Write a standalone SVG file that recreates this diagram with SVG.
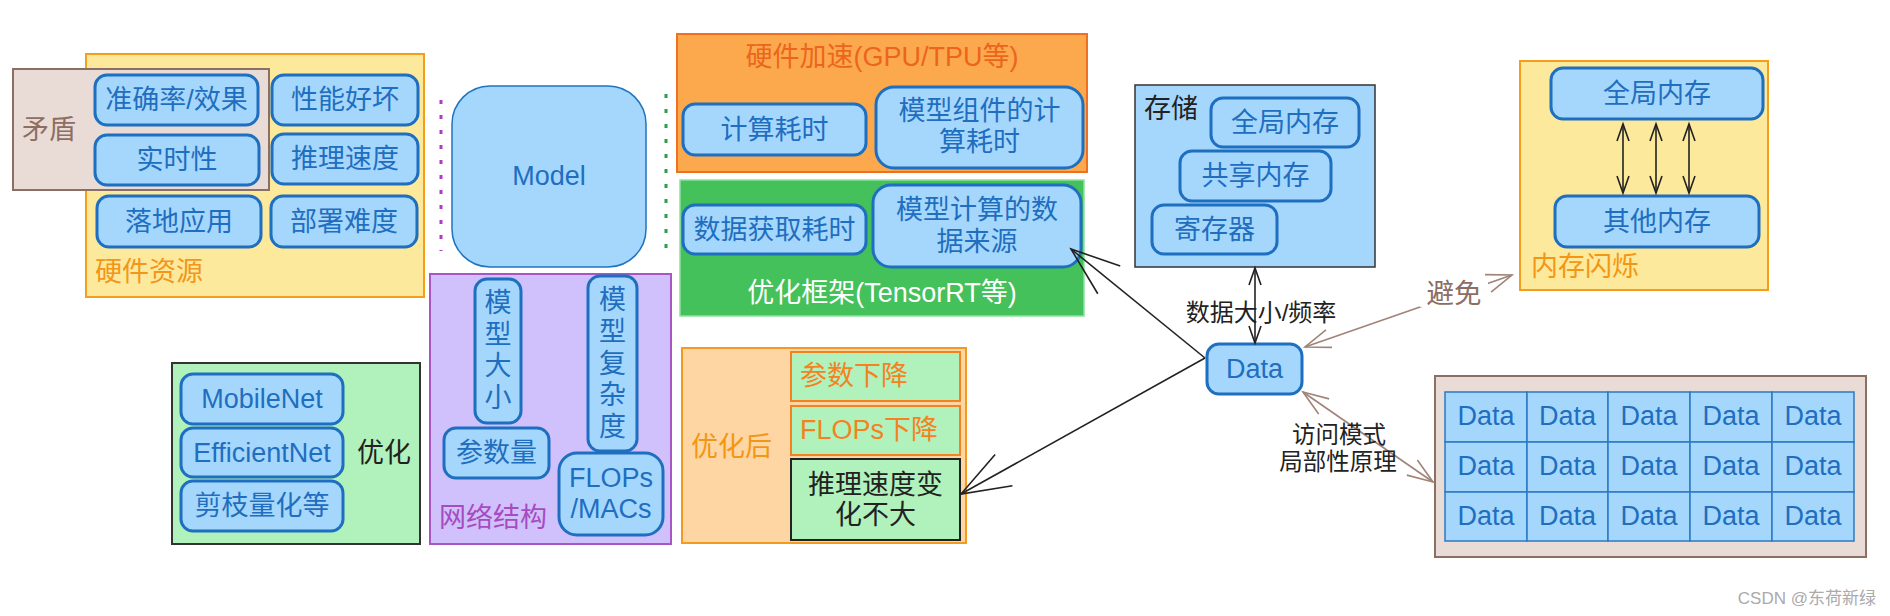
<svg xmlns="http://www.w3.org/2000/svg" width="1890" height="616" viewBox="0 0 1890 616">
<style>
text{font-family:"Liberation Sans","Noto Sans CJK SC",sans-serif;font-size:27px;dominant-baseline:central}
.c{text-anchor:middle}
.b{fill:#a5d7fd;stroke:#1f6fc0;stroke-width:3}
.bt{fill:#1f6ebf}
.cell{fill:#a5d7fd;stroke:#2a7ac4;stroke-width:1.5}
.lbl{font-size:24px;fill:#222}
.blk{stroke:#222;stroke-width:1.6;fill:none}
.brn{stroke:#a08479;stroke-width:1.6;fill:none}
</style>
<defs>
<marker id="big" markerUnits="userSpaceOnUse" orient="auto-start-reverse" overflow="visible" markerWidth="1" markerHeight="1">
<path d="M-49,-17.8 L0,0 L-49,17.8" fill="none" stroke="#222" stroke-width="1.6"/>
</marker>
<marker id="sm" markerUnits="userSpaceOnUse" orient="auto-start-reverse" overflow="visible" markerWidth="1" markerHeight="1">
<path d="M-17,-6 L0,0 L-17,6" fill="none" stroke="#222" stroke-width="1.6"/>
</marker>
<marker id="br" markerUnits="userSpaceOnUse" orient="auto-start-reverse" overflow="visible" markerWidth="1" markerHeight="1">
<path d="M-25.4,-9.2 L0,0 L-25.4,9.2" fill="none" stroke="#a08479" stroke-width="1.6"/>
</marker>
</defs>
<rect width="1890" height="616" fill="#fff"/>

<g id="hw-resource">
<rect x="86" y="54" width="338" height="243" fill="#fde99b" stroke="#f59e1b" stroke-width="2"/>
<text x="95" y="271.5" fill="#f2961b">硬件资源</text>
</g>
<g id="conflict">
<rect x="13" y="69" width="256" height="121" fill="#e9dcd7" stroke="#8d6e63" stroke-width="2"/>
<text x="22" y="129.5" fill="#8d6e63">矛盾</text>
</g>
<g id="n-accuracy"><rect class="b" x="95" y="75" width="163" height="50" rx="12"/><text class="c bt" x="176.5" y="100">准确率/效果</text></g>
<g id="n-perf"><rect class="b" x="272" y="75" width="146" height="50" rx="12"/><text class="c bt" x="345" y="100">性能好坏</text></g>
<g id="n-realtime"><rect class="b" x="95" y="135" width="164" height="50" rx="12"/><text class="c bt" x="177" y="160">实时性</text></g>
<g id="n-speed"><rect class="b" x="272" y="134" width="146" height="50" rx="12"/><text class="c bt" x="345" y="159">推理速度</text></g>
<g id="n-deploy-app"><rect class="b" x="97" y="196" width="164" height="51" rx="12"/><text class="c bt" x="179" y="221.5">落地应用</text></g>
<g id="n-deploy-diff"><rect class="b" x="271" y="196" width="146" height="51" rx="12"/><text class="c bt" x="344" y="221.5">部署难度</text></g>

<g id="model">
<rect x="452" y="86" width="194" height="181" rx="38" fill="#a5d7fd" stroke="#1f74c0" stroke-width="1.5"/>
<text class="c bt" x="549" y="176">Model</text>
</g>
<g id="dividers">
<line x1="441" y1="100" x2="441" y2="251" stroke="#b03ac8" stroke-width="3" stroke-dasharray="4 11"/>
<line x1="666" y1="94" x2="666" y2="257" stroke="#2e9e4a" stroke-width="3" stroke-dasharray="4 11"/>
</g>

<g id="hw-accel">
<rect x="677" y="34" width="410" height="138" fill="#fca94e" stroke="#f0701f" stroke-width="2"/>
<text class="c" x="882" y="57" fill="#ec651c">硬件加速(GPU/TPU等)</text>
</g>
<g id="n-compute-time"><rect class="b" x="683" y="104" width="183" height="51" rx="12"/><text class="c bt" x="774.5" y="129.5">计算耗时</text></g>
<g id="n-comp-time"><rect class="b" x="876" y="87" width="207" height="81" rx="18"/><text class="c bt" x="979.5" y="111">模型组件的计</text><text class="c bt" x="979.5" y="142">算耗时</text></g>

<g id="opt-framework">
<rect x="680" y="180" width="404" height="136" fill="#44c15a" stroke="#8fe0a0" stroke-width="1.5"/>
<text class="c" x="882" y="293" fill="#fff">优化框架(TensorRT等)</text>
</g>
<g id="n-fetch-time"><rect class="b" x="683" y="205" width="183" height="49" rx="12"/><text class="c bt" x="774.5" y="229.5">数据获取耗时</text></g>
<g id="n-data-source"><rect class="b" x="873" y="185" width="208" height="82" rx="18"/><text class="c bt" x="977" y="210">模型计算的数</text><text class="c bt" x="977" y="242">据来源</text></g>

<g id="storage">
<rect x="1135" y="85" width="240" height="182" fill="#a5d7fd" stroke="#333" stroke-width="1.5"/>
<text x="1144" y="108.5" fill="#222">存储</text>
</g>
<g id="n-global1"><rect class="b" x="1211" y="98" width="148" height="49" rx="12"/><text class="c bt" x="1285" y="122.5">全局内存</text></g>
<g id="n-shared"><rect class="b" x="1180" y="151" width="151" height="50" rx="12"/><text class="c bt" x="1255.5" y="176">共享内存</text></g>
<g id="n-register"><rect class="b" x="1152" y="205" width="125" height="49" rx="12"/><text class="c bt" x="1214.5" y="229.5">寄存器</text></g>

<g id="n-data"><rect class="b" x="1207" y="344" width="95" height="50" rx="12"/><text class="c bt" x="1254.5" y="369">Data</text></g>

<g id="mem-flicker">
<rect x="1520" y="61" width="248" height="229" fill="#fde99b" stroke="#f59e1b" stroke-width="2"/>
<text x="1531" y="266.5" fill="#f39614">内存闪烁</text>
</g>
<g id="n-global2"><rect class="b" x="1551" y="68" width="212" height="51" rx="12"/><text class="c bt" x="1657" y="93.5">全局内存</text></g>
<g id="n-other"><rect class="b" x="1555" y="196" width="204" height="51" rx="12"/><text class="c bt" x="1657" y="221.5">其他内存</text></g>

<g id="optimize">
<rect x="172" y="363" width="248" height="181" fill="#b1f1bb" stroke="#333" stroke-width="2"/>
<text x="357" y="453" fill="#222">优化</text>
</g>
<g id="n-mobilenet"><rect class="b" x="181" y="374" width="162" height="50" rx="12"/><text class="c bt" x="262" y="399">MobileNet</text></g>
<g id="n-efficientnet"><rect class="b" x="181" y="428" width="162" height="49" rx="12"/><text class="c bt" x="262" y="452.5">EfficientNet</text></g>
<g id="n-prune"><rect class="b" x="181" y="481" width="162" height="50" rx="12"/><text class="c bt" x="262" y="506">剪枝量化等</text></g>

<g id="net-structure">
<rect x="430" y="274" width="241" height="270" fill="#d0c1fc" stroke="#a855c8" stroke-width="2"/>
<text x="439" y="517.5" fill="#a64bc2">网络结构</text>
</g>
<g id="n-model-size"><rect class="b" x="475" y="279" width="46" height="144" rx="12"/>
<text class="c bt" x="498" y="303">模</text><text class="c bt" x="498" y="334.5">型</text><text class="c bt" x="498" y="366">大</text><text class="c bt" x="498" y="397.5">小</text></g>
<g id="n-model-complex"><rect class="b" x="588" y="276" width="49" height="175" rx="12"/>
<text class="c bt" x="612.5" y="300">模</text><text class="c bt" x="612.5" y="332">型</text><text class="c bt" x="612.5" y="363.5">复</text><text class="c bt" x="612.5" y="395">杂</text><text class="c bt" x="612.5" y="427">度</text></g>
<g id="n-params"><rect class="b" x="444" y="428" width="105" height="50" rx="12"/><text class="c bt" x="496.5" y="453">参数量</text></g>
<g id="n-flops"><rect class="b" x="559" y="453" width="104" height="82" rx="18"/><text class="c bt" x="611" y="478">FLOPs</text><text class="c bt" x="611" y="509">/MACs</text></g>

<g id="after-opt">
<rect x="682" y="348" width="284" height="195" fill="#fdd6a4" stroke="#f59a1f" stroke-width="2"/>
<text x="691" y="447" fill="#f39614">优化后</text>
</g>
<g id="n-param-down"><rect x="791" y="352" width="169" height="49" fill="#b1f1bb" stroke="#f58220" stroke-width="2"/><text x="800" y="375.5" fill="#f58220">参数下降</text></g>
<g id="n-flops-down"><rect x="791" y="406" width="169" height="49" fill="#b1f1bb" stroke="#f58220" stroke-width="2"/><text x="800" y="430" fill="#f58220">FLOPs下降</text></g>
<g id="n-speed-same"><rect x="791" y="459" width="169" height="81" fill="#b1f1bb" stroke="#222" stroke-width="2"/><text class="c" x="875.5" y="485" fill="#222">推理速度变</text><text class="c" x="875.5" y="515" fill="#222">化不大</text></g>

<g id="data-grid">
<rect x="1435" y="376" width="431" height="181" fill="#e9dcd7" stroke="#8d6e63" stroke-width="2"/>
<rect class="cell" x="1445" y="392" width="82" height="50"/><rect class="cell" x="1527" y="392" width="81" height="50"/><rect class="cell" x="1608" y="392" width="82" height="50"/><rect class="cell" x="1690" y="392" width="82" height="50"/><rect class="cell" x="1772" y="392" width="82" height="50"/>
<rect class="cell" x="1445" y="442" width="82" height="50"/><rect class="cell" x="1527" y="442" width="81" height="50"/><rect class="cell" x="1608" y="442" width="82" height="50"/><rect class="cell" x="1690" y="442" width="82" height="50"/><rect class="cell" x="1772" y="442" width="82" height="50"/>
<rect class="cell" x="1445" y="492" width="82" height="49"/><rect class="cell" x="1527" y="492" width="81" height="49"/><rect class="cell" x="1608" y="492" width="82" height="49"/><rect class="cell" x="1690" y="492" width="82" height="49"/><rect class="cell" x="1772" y="492" width="82" height="49"/>
<text class="c bt" x="1486" y="416">Data</text><text class="c bt" x="1567.5" y="416">Data</text><text class="c bt" x="1649" y="416">Data</text><text class="c bt" x="1731" y="416">Data</text><text class="c bt" x="1813" y="416">Data</text>
<text class="c bt" x="1486" y="466">Data</text><text class="c bt" x="1567.5" y="466">Data</text><text class="c bt" x="1649" y="466">Data</text><text class="c bt" x="1731" y="466">Data</text><text class="c bt" x="1813" y="466">Data</text>
<text class="c bt" x="1486" y="515.5">Data</text><text class="c bt" x="1567.5" y="515.5">Data</text><text class="c bt" x="1649" y="515.5">Data</text><text class="c bt" x="1731" y="515.5">Data</text><text class="c bt" x="1813" y="515.5">Data</text>
</g>

<g id="connectors">
<line class="blk" x1="1205" y1="358" x2="1071" y2="249" marker-end="url(#big)"/>
<line class="blk" x1="1205" y1="358" x2="961" y2="494" marker-end="url(#big)"/>
<line class="blk" x1="1255" y1="268" x2="1255" y2="343" marker-start="url(#sm)" marker-end="url(#sm)"/>
<text class="c lbl" x="1261" y="312">数据大小/频率</text>
<line class="blk" x1="1623" y1="124" x2="1623" y2="193" marker-start="url(#sm)" marker-end="url(#sm)"/>
<line class="blk" x1="1656" y1="124" x2="1656" y2="193" marker-start="url(#sm)" marker-end="url(#sm)"/>
<line class="blk" x1="1689" y1="124" x2="1689" y2="193" marker-start="url(#sm)" marker-end="url(#sm)"/>
<line class="brn" x1="1305" y1="347" x2="1512" y2="275" marker-start="url(#br)" marker-end="url(#br)"/>
<rect x="1420" y="279" width="68" height="28" fill="#fff"/>
<text class="c" x="1454" y="293" fill="#8d6e63" style="font-size:27.5px">避免</text>
<line class="brn" x1="1303" y1="392" x2="1433" y2="482" marker-start="url(#br)" marker-end="url(#br)"/>
<text class="c lbl" x="1339" y="435" style="font-size:23.5px">访问模式</text>
<text class="c lbl" x="1338" y="462" style="font-size:23.5px">局部性原理</text>
</g>

<text x="1876" y="598" fill="#aaa" style="font-size:17px;text-anchor:end">CSDN @东荷新绿</text>
</svg>
